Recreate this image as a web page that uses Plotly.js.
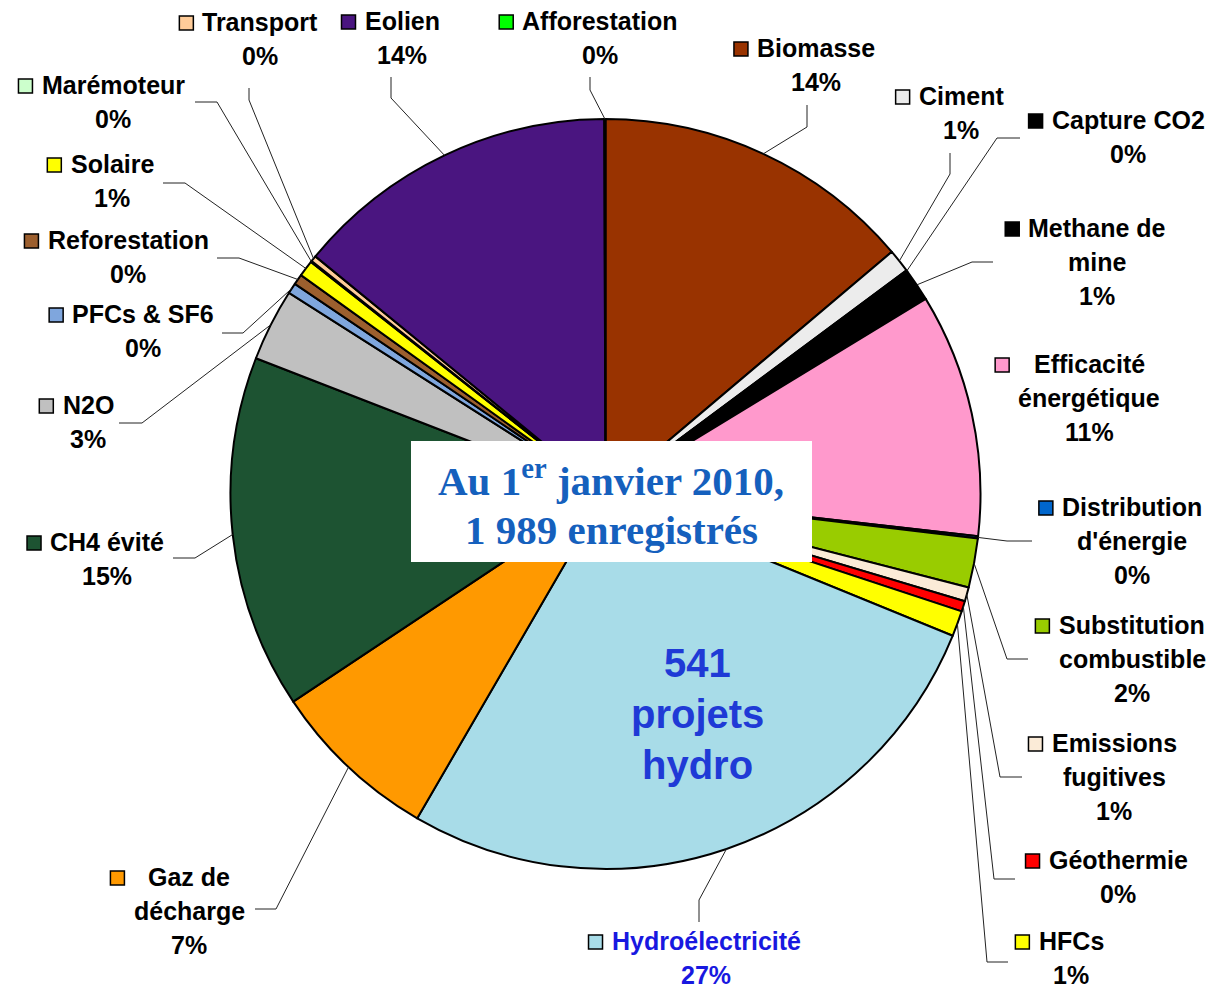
<!DOCTYPE html>
<html>
<head>
<meta charset="utf-8">
<script src="https://cdn.plot.ly/plotly-3.0.1.min.js"></script>
<style>
  html, body { margin: 0; padding: 0; background: #ffffff; }
  #chart { width: 1211px; height: 989px; }
</style>
</head>
<body>
<div id="chart"></div>
<script>
// ---------------- DATA ----------------
const categories = [
  "Biomasse", "Ciment", "Capture CO2", "Methane de mine", "Efficacité énergétique",
  "Distribution d'énergie", "Substitution combustible", "Emissions fugitives", "Géothermie", "HFCs",
  "Hydroélectricité", "Gaz de décharge", "CH4 évité", "N2O", "PFCs & SF6",
  "Reforestation", "Solaire", "Marémoteur", "Transport", "Eolien", "Afforestation"
];
// number of registered projects per category (total 1 989)
const projects = [
  275, 20, 1, 28, 209,
  2, 42, 12, 9, 22,
  541, 145, 303, 62, 9,
  9, 14, 1, 5, 279, 1
];
const boxLines = ["Au 1<sup>er</sup> janvier 2010,", "1 989 enregistrés"];
const hydroLines = ["541", "projets", "hydro"];

// ---------------- STYLE / LAYOUT ----------------
const sliceColors = [
  "#993300", "#ECECEC", "#000000", "#000000", "#FF99CC",
  "#0066CC", "#99CC00", "#FBEBD7", "#FF0000", "#FFFF00",
  "#A8DCE8", "#FF9900", "#1D5332", "#C0C0C0", "#7FA6DD",
  "#9C5F2E", "#FFFF00", "#CCFFCC", "#FFCC99", "#4A1580", "#00FF00"
];
const W = 1211, H = 989;
const PCX = 605.5, PCY = 494, PR = 375;   // pie centre & radius in px
const FS = 25, LINE = 34;
const labelFont = "Liberation Sans, Arial, sans-serif";

// label wrap and placement (px): cx, first line y, leader anchor & elbow
const labelLayout = {
  "Biomasse":               {lines: ["Biomasse"], cx: 816, y: 48, a: [807,105], e: [807,127]},
  "Ciment":                 {lines: ["Ciment"], cx: 961, y: 96, a: [950,153], e: [950,174]},
  "Capture CO2":            {lines: ["Capture CO2"], cx: 1128, y: 120, a: [1020,138], e: [997,138]},
  "Methane de mine":        {lines: ["Methane de", "mine"], cx: 1097, y: 228, a: [993,262], e: [972,262]},
  "Efficacité énergétique": {lines: ["Efficacité", "énergétique"], cx: 1089, y: 364, a: null, e: null},
  "Distribution d'énergie": {lines: ["Distribution", "d'énergie"], cx: 1132, y: 507, a: [1032,541], e: [1007,541]},
  "Substitution combustible": {lines: ["Substitution", "combustible"], cx: 1132, y: 625, a: [1028,659], e: [1007,659]},
  "Emissions fugitives":    {lines: ["Emissions", "fugitives"], cx: 1114, y: 743, a: [1022,777], e: [1000,777]},
  "Géothermie":             {lines: ["Géothermie"], cx: 1118, y: 860, a: [1015,879], e: [994,879]},
  "HFCs":                   {lines: ["HFCs"], cx: 1071, y: 941, a: [1008,962], e: [987,962]},
  "Hydroélectricité":       {lines: ["Hydroélectricité"], cx: 706, y: 941, a: [699,922], e: [699,900], color: "#1818E0"},
  "Gaz de décharge":        {lines: ["Gaz de", "décharge"], cx: 189, y: 877, a: [255,909], e: [276,909]},
  "CH4 évité":              {lines: ["CH4 évité"], cx: 107, y: 542, a: [173,558], e: [195,558]},
  "N2O":                    {lines: ["N2O"], cx: 88, y: 405, a: [119,423], e: [142,423]},
  "PFCs & SF6":             {lines: ["PFCs &amp; SF6"], cx: 143, y: 314, a: [222,333], e: [243,333]},
  "Reforestation":          {lines: ["Reforestation"], cx: 128, y: 240, a: [217,258], e: [239,258]},
  "Solaire":                {lines: ["Solaire"], cx: 112, y: 164, a: [163,183], e: [185,183]},
  "Marémoteur":             {lines: ["Marémoteur"], cx: 113, y: 85, a: [195,102], e: [217,102]},
  "Transport":              {lines: ["Transport"], cx: 260, y: 22, a: [249,88], e: [249,100]},
  "Eolien":                 {lines: ["Eolien"], cx: 402, y: 21, a: [391,77], e: [391,98]},
  "Afforestation":          {lines: ["Afforestation"], cx: 600, y: 21, a: [590,77], e: [590,90]}
};

const px = x => x / W;
const py = y => 1 - y / H;

// measure text widths
const cv = document.createElement("canvas").getContext("2d");
cv.font = "bold " + FS + "px 'Liberation Sans'";
const tw = s => cv.measureText(s.replace(/&amp;/g, "&")).width;

const total = projects.reduce((s, v) => s + v, 0);
const annotations = [];
const shapes = [];

let cum = 0;
categories.forEach((name, i) => {
  const v = projects[i];
  const mid = (cum + v / 2) / total * 2 * Math.PI;
  cum += v;
  const L = labelLayout[name];
  const color = L.color || "#000000";
  const lines = L.lines.concat([Math.round(100 * v / total) + "%"]);
  lines.forEach((t, k) => {
    annotations.push({
      xref: "paper", yref: "paper", x: px(L.cx), y: py(L.y + k * LINE),
      xanchor: "center", yanchor: "middle", showarrow: false,
      text: "<b>" + t + "</b>",
      font: {family: labelFont, size: FS, color: color}
    });
  });
  // legend key square
  const maxW = Math.max.apply(null, L.lines.map(tw));
  const right = L.cx - maxW / 2 - 9, sz = 14;
  shapes.push({
    type: "rect", xref: "paper", yref: "paper",
    x0: px(right - sz), x1: px(right), y0: py(L.y + 1 - sz / 2), y1: py(L.y + 1 + sz / 2),
    fillcolor: sliceColors[i], line: {color: "#000000", width: 1.5}, layer: "above"
  });
  // leader line
  if (L.a) {
    const P = [PCX + PR * Math.sin(mid), PCY - PR * Math.cos(mid)];
    shapes.push({
      type: "path", xref: "paper", yref: "paper",
      path: "M " + px(L.a[0]) + "," + py(L.a[1]) + " L " + px(L.e[0]) + "," + py(L.e[1]) +
            " L " + px(P[0]) + "," + py(P[1]),
      line: {color: "#222222", width: 1}, layer: "above"
    });
  }
});

// central white box
shapes.push({
  type: "rect", xref: "paper", yref: "paper",
  x0: px(411), x1: px(812), y0: py(441), y1: py(562),
  fillcolor: "#FFFFFF", line: {width: 0}, layer: "above"
});
boxLines.forEach((t, k) => {
  annotations.push({
    xref: "paper", yref: "paper", x: px(611), y: py(478 + k * 52),
    xanchor: "center", yanchor: "middle", showarrow: false,
    text: "<b>" + t + "</b>",
    font: {family: "Liberation Serif, Times New Roman, serif", size: 41, color: "#1560BD"}
  });
});
hydroLines.forEach((t, k) => {
  annotations.push({
    xref: "paper", yref: "paper", x: px(697), y: py(663 + k * 51),
    xanchor: "center", yanchor: "middle", showarrow: false,
    text: "<b>" + t + "</b>",
    font: {family: labelFont, size: 40, color: "#1F3AD6"}
  });
});

const trace = {
  type: "pie",
  labels: categories,
  values: projects,
  sort: false,
  direction: "clockwise",
  rotation: 0,
  textinfo: "none",
  hoverinfo: "label+value+percent",
  marker: {colors: sliceColors, line: {color: "#000000", width: 2}},
  domain: {x: [px(PCX - PR), px(PCX + PR)], y: [py(PCY + PR), py(PCY - PR)]},
  showlegend: false
};

Plotly.newPlot("chart", [trace], {
  width: W, height: H,
  margin: {l: 0, r: 0, t: 0, b: 0},
  paper_bgcolor: "#FFFFFF",
  showlegend: false,
  shapes: shapes,
  annotations: annotations
}, {displayModeBar: false, staticPlot: true});
</script>
</body>
</html>
